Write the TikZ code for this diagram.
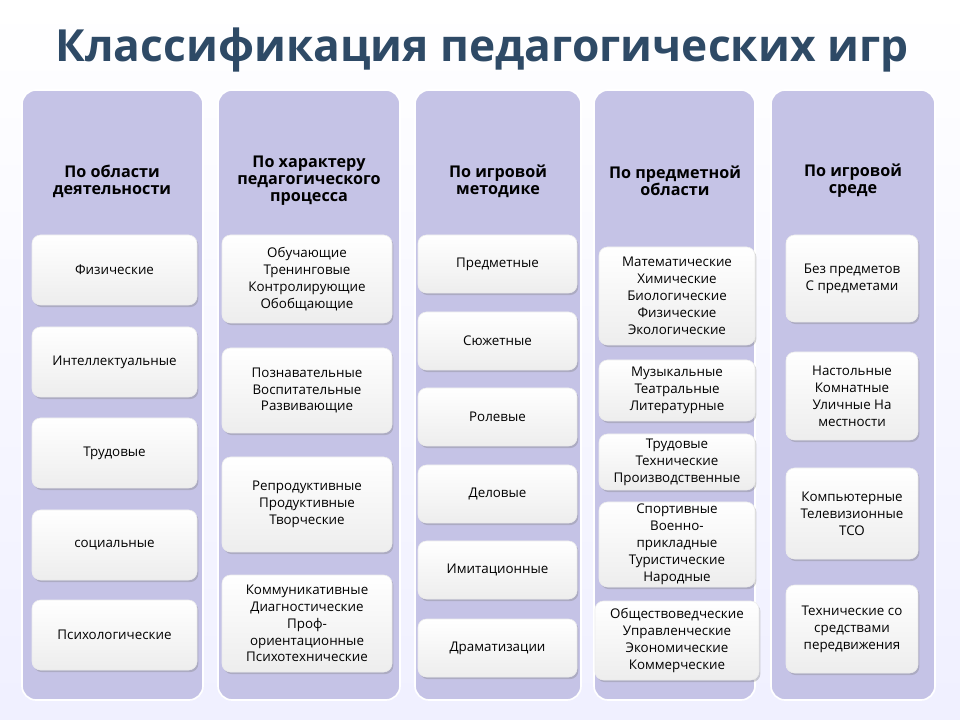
\documentclass[tikz,border=0pt]{standalone}
\usepackage{fontspec}
\setmainfont{Open Sans}
\usetikzlibrary{shadows}
\definecolor{colfill}{HTML}{C5C3E6}
\definecolor{titlecol}{HTML}{2E4A66}
\tikzset{
  column/.style={rounded corners=10pt, fill=colfill, draw=white, line width=1.2pt},
  head/.style={font=\fontsize{11.5}{12}\selectfont\bfseries, align=center, text=black},
  item/.style={rounded corners=6pt, top color=white, bottom color=gray!14, draw=white!85!gray, drop shadow={opacity=0.35, shadow xshift=1pt, shadow yshift=-1.5pt},
    font=\fontsize{9.5}{12}\selectfont, align=center, inner sep=1pt}
}
% box at x1,y1 to x2,y2 with a name
\newcommand{\itembox}[6]{\node[item, minimum width=#3*0.025cm-0.025cm*#1, minimum height=#4*0.025cm-0.025cm*#2] (#5) at ({(#1+#3)/2},{(#2+#4)/2}) {#6};}
\begin{document}
\begin{tikzpicture}[x=0.025cm,y=-0.025cm]
\shade[top color=white, bottom color=blue!6] (0,0) rectangle (960,720);
\useasboundingbox (0,0) rectangle (960,720);
\node[font=\fontsize{31.5}{32}\selectfont\bfseries, text=titlecol] (title) at (482,50) {Классификация педагогических игр};
% columns
\draw[column] (22,90) rectangle (203,700);
\draw[column] (218,90) rectangle (400,700);
\draw[column] (415,90) rectangle (581,700);
\draw[column] (594,90) rectangle (755,700);
\draw[column] (771,90) rectangle (935,700);
\node[head] (h1) at (112,181) {По области\\деятельности};
\node[head] (h2) at (309,181) {По характеру\\педагогического\\процесса};
\node[head] (h3) at (498,181) {По игровой\\методике};
\node[head] (h4) at (675,181) {По предметной\\области};
\node[head] (h5) at (853,181) {По игровой\\среде};
% column 1
\itembox{32}{235}{197}{305}{a1}{Физические}
\itembox{32}{327}{197}{397}{a2}{Интеллектуальные}
\itembox{32}{418}{197}{488}{a3}{Трудовые}
\itembox{32}{510}{197}{580}{a4}{социальные}
\itembox{32}{600}{197}{670}{a5}{Психологические}
% column 2
\itembox{222}{235}{392}{323}{b1}{Обучающие\\Тренинговые\\Контролирующие\\Обобщающие}
\itembox{222}{348}{392}{433}{b2}{Познавательные\\Воспитательные\\Развивающие}
\itembox{222}{457}{392}{552}{b3}{Репродуктивные\\Продуктивные\\Творческие}
\itembox{222}{575}{392}{672}{b4}{Коммуникативные\\Диагностические\\Проф-\\ориентационные\\Психотехнические}
% column 3
\itembox{418}{235}{577}{293}{c1}{Предметные}
\itembox{418}{312}{577}{370}{c2}{Сюжетные}
\itembox{418}{388}{577}{446}{c3}{Ролевые}
\itembox{418}{465}{577}{523}{c4}{Деловые}
\itembox{418}{541}{577}{599}{c5}{Имитационные}
\itembox{418}{619}{577}{677}{c6}{Драматизации}
% column 4
\itembox{599}{247}{755}{345}{d1}{Математические\\Химические\\Биологические\\Физические\\Экологические}
\itembox{599}{360}{755}{421}{d2}{Музыкальные\\Театральные\\Литературные}
\itembox{599}{434}{755}{490}{d3}{Трудовые\\Технические\\Производственные}
\itembox{599}{502}{755}{587}{d4}{Спортивные\\Военно-\\прикладные\\Туристические\\Народные}
\itembox{595}{601}{759}{680}{d5}{Обществоведческие\\Управленческие\\Экономические\\Коммерческие}
% column 5
\itembox{786}{235}{918}{322}{e1}{Без предметов\\С предметами}
\itembox{786}{352}{918}{440}{e2}{Настольные\\Комнатные\\Уличные На\\местности}
\itembox{786}{468}{918}{559}{e3}{Компьютерные\\Телевизионные\\ТСО}
\itembox{786}{585}{918}{673}{e4}{Технические со\\средствами\\передвижения}
\end{tikzpicture}
\end{document}
